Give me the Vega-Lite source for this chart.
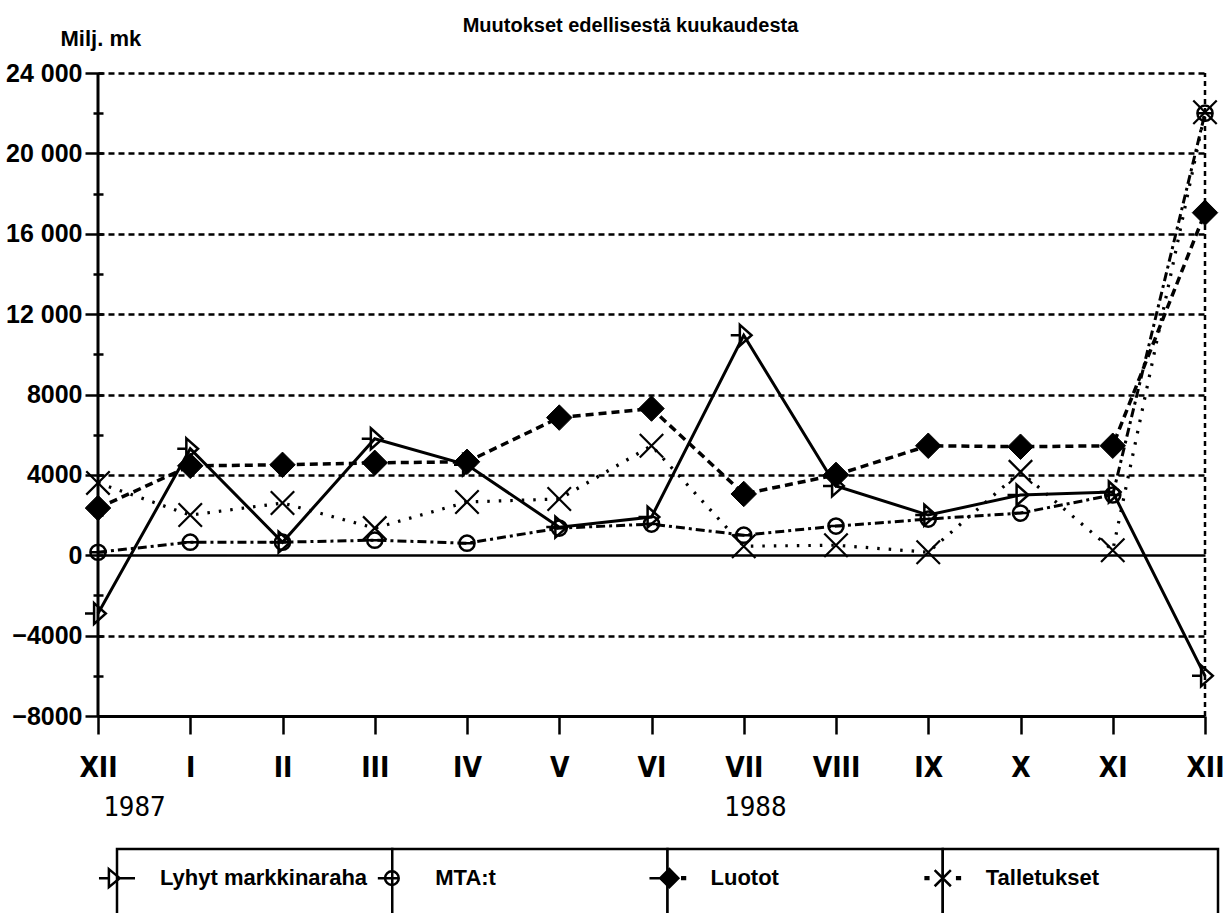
{
  "$schema": "https://vega.github.io/schema/vega-lite/v6.json",
  "width": 1107,
  "height": 643,
  "autosize": {"type": "none"},
  "padding": {"left": 98, "top": 73, "right": 20, "bottom": 197},
  "background": "white",
  "config": {
    "view": {"stroke": null},
    "font": "'Liberation Sans'",
    "axis": {"labelColor": "black", "tickColor": "black", "titleColor": "black", "domainColor": "black"}
  },
  "title": {
    "text": "Muutokset edellisestä kuukaudesta",
    "anchor": "middle",
    "frame": "group",
    "offset": -9,
    "dx": -21,
    "font": "'Liberation Sans'",
    "fontSize": 20,
    "fontWeight": "bold",
    "color": "black"
  },
  "datasets": {
    "rahoitus": [
      {"m": 0, "series": "Lyhyt markkinaraha", "v": -2900},
      {"m": 1, "series": "Lyhyt markkinaraha", "v": 5300},
      {"m": 2, "series": "Lyhyt markkinaraha", "v": 650},
      {"m": 3, "series": "Lyhyt markkinaraha", "v": 5800},
      {"m": 4, "series": "Lyhyt markkinaraha", "v": 4500},
      {"m": 5, "series": "Lyhyt markkinaraha", "v": 1400},
      {"m": 6, "series": "Lyhyt markkinaraha", "v": 1900},
      {"m": 7, "series": "Lyhyt markkinaraha", "v": 10950},
      {"m": 8, "series": "Lyhyt markkinaraha", "v": 3450},
      {"m": 9, "series": "Lyhyt markkinaraha", "v": 2000},
      {"m": 10, "series": "Lyhyt markkinaraha", "v": 3000},
      {"m": 11, "series": "Lyhyt markkinaraha", "v": 3150},
      {"m": 12, "series": "Lyhyt markkinaraha", "v": -6000},
      {"m": 0, "series": "MTA:t", "v": 150},
      {"m": 1, "series": "MTA:t", "v": 650},
      {"m": 2, "series": "MTA:t", "v": 650},
      {"m": 3, "series": "MTA:t", "v": 750},
      {"m": 4, "series": "MTA:t", "v": 600},
      {"m": 5, "series": "MTA:t", "v": 1350},
      {"m": 6, "series": "MTA:t", "v": 1550},
      {"m": 7, "series": "MTA:t", "v": 1000},
      {"m": 8, "series": "MTA:t", "v": 1450},
      {"m": 9, "series": "MTA:t", "v": 1800},
      {"m": 10, "series": "MTA:t", "v": 2100},
      {"m": 11, "series": "MTA:t", "v": 3000},
      {"m": 12, "series": "MTA:t", "v": 22000},
      {"m": 0, "series": "Luotot", "v": 2350},
      {"m": 1, "series": "Luotot", "v": 4450},
      {"m": 2, "series": "Luotot", "v": 4500},
      {"m": 3, "series": "Luotot", "v": 4600},
      {"m": 4, "series": "Luotot", "v": 4650},
      {"m": 5, "series": "Luotot", "v": 6850},
      {"m": 6, "series": "Luotot", "v": 7300},
      {"m": 7, "series": "Luotot", "v": 3050},
      {"m": 8, "series": "Luotot", "v": 4000},
      {"m": 9, "series": "Luotot", "v": 5450},
      {"m": 10, "series": "Luotot", "v": 5400},
      {"m": 11, "series": "Luotot", "v": 5450},
      {"m": 12, "series": "Luotot", "v": 17050},
      {"m": 0, "series": "Talletukset", "v": 3600},
      {"m": 1, "series": "Talletukset", "v": 2000},
      {"m": 2, "series": "Talletukset", "v": 2600},
      {"m": 3, "series": "Talletukset", "v": 1350},
      {"m": 4, "series": "Talletukset", "v": 2650},
      {"m": 5, "series": "Talletukset", "v": 2800},
      {"m": 6, "series": "Talletukset", "v": 5450},
      {"m": 7, "series": "Talletukset", "v": 450},
      {"m": 8, "series": "Talletukset", "v": 500},
      {"m": 9, "series": "Talletukset", "v": 150},
      {"m": 10, "series": "Talletukset", "v": 4150},
      {"m": 11, "series": "Talletukset", "v": 250},
      {"m": 12, "series": "Talletukset", "v": 22050}
    ],
    "selite": [
      {"series": "Lyhyt markkinaraha"},
      {"series": "MTA:t"},
      {"series": "Luotot"},
      {"series": "Talletukset"}
    ]
  },
  "layer": [
    {
      "data": {"name": "rahoitus"},
      "resolve": {"axis": {"x": "independent", "y": "independent"}},
      "layer": [
        {
          "data": {"values": [{"edge": "left"}]},
          "mark": {"type": "rule", "color": "black", "strokeWidth": 3},
          "encoding": {
            "x": {"datum": 0, "type": "quantitative", "scale": {"domain": [0, 12], "nice": false, "zero": false}, "axis": null},
            "y": {"datum": -8000, "type": "quantitative", "scale": {"domain": [-8000, 24000], "nice": false, "zero": false}, "axis": null},
            "y2": {"datum": 24000}
          }
        },
        {
          "data": {"values": [{"edge": "right"}]},
          "mark": {"type": "rule", "color": "black", "strokeWidth": 2.5, "strokeDash": [5, 4]},
          "encoding": {
            "x": {"datum": 12, "type": "quantitative", "axis": null},
            "y": {"datum": -8000, "type": "quantitative", "axis": null},
            "y2": {"datum": 24000}
          }
        },
        {
          "transform": [{"filter": "datum.series === 'Lyhyt markkinaraha'"}],
          "mark": {"type": "line", "color": "black", "strokeWidth": 3},
          "encoding": {
            "x": {
              "field": "m", "type": "quantitative",
              "axis": {
                "orient": "bottom",
                "values": [0, 1, 2, 3, 4, 5, 6, 7, 8, 9, 10, 11, 12],
                "labelExpr": "['XII','I','II','III','IV','V','VI','VII','VIII','IX','X','XI','XII'][datum.value]",
                "tickSize": 18, "tickWidth": 2.5,
                "domainWidth": 3,
                "labelFont": "'DejaVu Sans Condensed', 'Liberation Sans'",
                "labelFontSize": 28, "labelFontWeight": "bold",
                "labelPadding": 20,
                "labelFlush": false, "labelOverlap": false,
                "grid": false, "title": null
              }
            },
            "y": {
              "field": "v", "type": "quantitative",
              "axis": {
                "orient": "left",
                "values": [-8000, -4000, 0, 4000, 8000, 12000, 16000, 20000, 24000],
                "labelExpr": "datum.value >= 10000 ? floor(datum.value/1000) + ' 000' : (datum.value < 0 ? '−' + (-datum.value) : '' + datum.value)",
                "offset": -5,
                "domain": false,
                "tickSize": 18, "tickWidth": 2.5,
                "labelPadding": 3,
                "labelFont": "'Liberation Sans'",
                "labelFontSize": 25, "labelFontWeight": "bold",
                "labelFlush": false, "labelOverlap": false,
                "grid": true,
                "gridColor": "black",
                "gridWidth": 2.5,
                "gridDash": {"condition": {"test": "datum.value === 0", "value": [1, 0]}, "value": [6, 4]},
                "gridOpacity": {"condition": {"test": "datum.value === -8000", "value": 0}, "value": 1},
                "title": "Milj. mk",
                "titleAngle": 0,
                "titleAlign": "left",
                "titleBaseline": "alphabetic",
                "titleX": -43,
                "titleY": -28,
                "titleFont": "'Liberation Sans'",
                "titleFontSize": 22,
                "titleFontWeight": "bold"
              }
            }
          }
        },
        {
          "transform": [{"filter": "datum.series === 'MTA:t'"}],
          "mark": {"type": "line", "color": "black", "strokeWidth": 3, "strokeDash": [9, 4, 3, 4]},
          "encoding": {
            "x": {"field": "m", "type": "quantitative", "axis": null},
            "y": {"field": "v", "type": "quantitative", "axis": null}
          }
        },
        {
          "transform": [{"filter": "datum.series === 'Luotot'"}],
          "mark": {"type": "line", "color": "black", "strokeWidth": 3.5, "strokeDash": [8, 5]},
          "encoding": {
            "x": {"field": "m", "type": "quantitative", "axis": null},
            "y": {"field": "v", "type": "quantitative", "axis": null}
          }
        },
        {
          "transform": [{"filter": "datum.series === 'Talletukset'"}],
          "mark": {"type": "line", "color": "black", "strokeWidth": 3.2, "strokeDash": [2.5, 9]},
          "encoding": {
            "x": {"field": "m", "type": "quantitative", "axis": null},
            "y": {"field": "v", "type": "quantitative", "axis": null}
          }
        },
        {
          "transform": [{"filter": "datum.series === 'Lyhyt markkinaraha'"}],
          "mark": {"type": "point", "filled": false, "stroke": "black", "strokeWidth": 2.5, "opacity": 1, "size": 676,
                   "shape": "M-1,0H-0.3M-0.3,-0.8L0.6,0L-0.3,0.8Z"},
          "encoding": {
            "x": {"field": "m", "type": "quantitative", "axis": null},
            "y": {
              "field": "v", "type": "quantitative",
              "axis": {
                "orient": "left",
                "values": [-6000, -2000, 2000, 6000, 10000, 14000, 18000, 22000],
                "offset": -5,
                "domain": false, "labels": false, "grid": false,
                "tickSize": 10, "tickWidth": 2.5,
                "title": null
              }
            }
          }
        },
        {
          "transform": [{"filter": "datum.series === 'MTA:t'"}],
          "mark": {"type": "point", "filled": false, "stroke": "black", "strokeWidth": 2.5, "opacity": 1, "size": 230,
                   "shape": "M-1,0A1,1,0,1,1,1,0A1,1,0,1,1,-1,0ZM-1,0H1"},
          "encoding": {
            "x": {
              "field": "m", "type": "quantitative",
              "axis": {
                "orient": "bottom",
                "values": [0.39, 7.12],
                "labelExpr": "datum.value < 1 ? '1987' : '1988'",
                "ticks": false, "domain": false, "grid": false,
                "labelPadding": 78,
                "labelFont": "'DejaVu Sans Mono'",
                "labelFontSize": 26,
                "labelFlush": false, "labelOverlap": false,
                "title": null
              }
            },
            "y": {"field": "v", "type": "quantitative", "axis": null}
          }
        },
        {
          "transform": [{"filter": "datum.series === 'Luotot'"}],
          "mark": {"type": "point", "filled": true, "fill": "black", "stroke": "black", "strokeWidth": 1, "opacity": 1, "size": 650,
                   "shape": "M0,-1L1,0L0,1L-1,0Z"},
          "encoding": {
            "x": {"field": "m", "type": "quantitative", "axis": null},
            "y": {"field": "v", "type": "quantitative", "axis": null}
          }
        },
        {
          "transform": [{"filter": "datum.series === 'Talletukset'"}],
          "mark": {"type": "point", "filled": false, "stroke": "black", "strokeWidth": 2.2, "opacity": 1, "size": 550,
                   "shape": "M-1,-1L1,1M-1,1L1,-1"},
          "encoding": {
            "x": {"field": "m", "type": "quantitative", "axis": null},
            "y": {"field": "v", "type": "quantitative", "axis": null}
          }
        }
      ]
    },
    {
      "data": {"name": "selite"},
      "encoding": {
        "x": {
          "field": "series", "type": "nominal",
          "sort": ["Lyhyt markkinaraha", "MTA:t", "Luotot", "Talletukset"],
          "scale": {"type": "band", "range": [19, 1120], "paddingInner": 0, "paddingOuter": 0},
          "axis": null
        }
      },
      "layer": [
        {
          "mark": {"type": "rect", "fill": "white", "stroke": "black", "strokeWidth": 2.5},
          "encoding": {
            "y": {"datum": 0, "type": "quantitative", "scale": {"domain": [0, 1], "range": [776, 870], "nice": false, "zero": false}, "axis": null},
            "y2": {"datum": 1}
          }
        },
        {
          "transform": [{"filter": "datum.series !== 'Luotot'"}],
          "mark": {"type": "point", "filled": false, "stroke": "black", "strokeWidth": 2.5, "opacity": 1, "size": 1300, "dx": 23},
          "encoding": {
            "x": {"field": "series", "type": "nominal", "sort": ["Lyhyt markkinaraha", "MTA:t", "Luotot", "Talletukset"], "bandPosition": 0, "axis": null},
            "y": {"datum": 0.31, "type": "quantitative", "axis": null},
            "shape": {
              "field": "series", "type": "nominal",
              "scale": {
                "domain": ["Lyhyt markkinaraha", "MTA:t", "Talletukset"],
                "range": [
                  "M-1,0H-0.45M-0.45,-0.5L0.15,0L-0.45,0.5ZM0.15,0H1",
                  "M-0.8,0H-0.4M-0.4,0A0.38,0.38,0,1,1,0.36,0A0.38,0.38,0,1,1,-0.4,0ZM-0.4,0H0.36",
                  "M-0.95,-0.05H-0.8V0.05H-0.95ZM-0.45,-0.45L0.45,0.45M-0.45,0.45L0.45,-0.45M0.8,-0.05H0.95V0.05H0.8Z"
                ]
              },
              "legend": null
            }
          }
        },
        {
          "transform": [{"filter": "datum.series === 'Luotot'"}],
          "mark": {"type": "point", "filled": true, "fill": "black", "stroke": "black", "strokeWidth": 2.5, "opacity": 1, "size": 1300, "dx": 23,
                   "shape": "M-1,0H-0.4M-0.4,0L0.1,-0.5L0.6,0L0.1,0.5ZM0.82,-0.05H0.97V0.05H0.82Z"},
          "encoding": {
            "x": {"field": "series", "type": "nominal", "sort": ["Lyhyt markkinaraha", "MTA:t", "Luotot", "Talletukset"], "bandPosition": 0, "axis": null},
            "y": {"datum": 0.31, "type": "quantitative", "axis": null}
          }
        },
        {
          "mark": {"type": "text", "align": "left", "baseline": "middle", "dx": 43, "font": "'Liberation Sans'", "fontSize": 22, "fontWeight": "bold", "color": "black"},
          "encoding": {
            "x": {"field": "series", "type": "nominal", "sort": ["Lyhyt markkinaraha", "MTA:t", "Luotot", "Talletukset"], "bandPosition": 0, "axis": null},
            "y": {"datum": 0.31, "type": "quantitative", "axis": null},
            "text": {"field": "series"}
          }
        }
      ]
    }
  ],
  "resolve": {"scale": {"x": "independent", "y": "independent"}}
}
